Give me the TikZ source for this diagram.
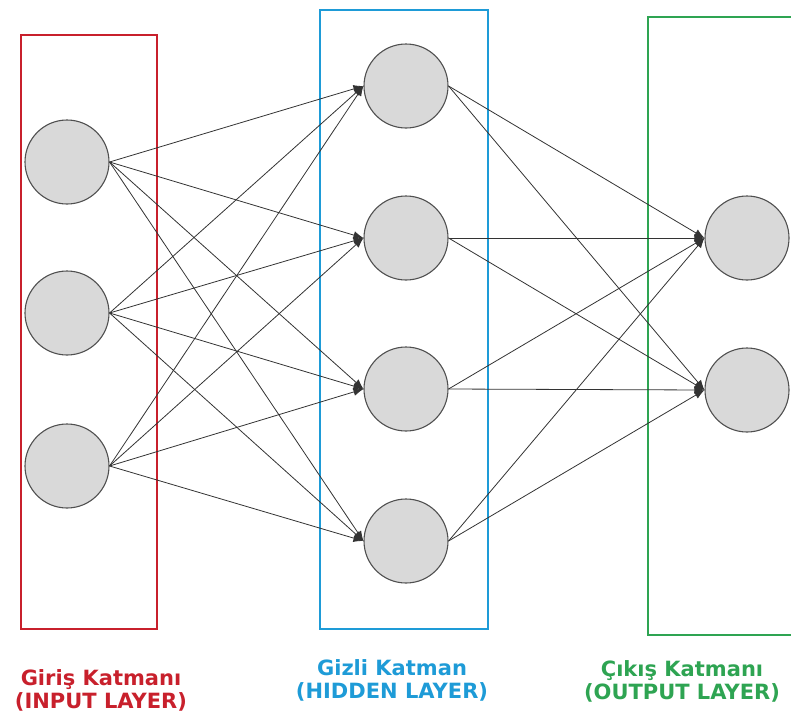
\documentclass[tikz,border=0pt]{standalone}
\usepackage{fontspec}
\setmainfont{DejaVu Sans}
\usetikzlibrary{arrows.meta}
\definecolor{inred}{RGB}{200,32,44}
\definecolor{hidblue}{RGB}{30,155,215}
\definecolor{outgreen}{RGB}{46,164,82}
\definecolor{nodefill}{RGB}{217,217,217}
\definecolor{nodeline}{RGB}{80,80,80}
\tikzset{
  neuron/.style={circle, draw=nodeline, line width=1.1pt, fill=nodefill, minimum size=84pt, inner sep=0pt},
  layerbox/.style={line width=2.8pt},
  link/.style={draw=black!80, line width=0.8pt, -{Latex[length=10pt,width=8pt]}},
  lab/.style={font=\bfseries\fontsize{21}{23}\selectfont, align=center, inner sep=0pt}
}
\begin{document}
\begin{tikzpicture}[x=1pt,y=-1pt]
\useasboundingbox (0,0) rectangle (791,720);
% layer boxes
\draw[layerbox, draw=inred] (21,35) rectangle (157,629);
\draw[layerbox, draw=hidblue] (320,10) rectangle (488,629);
\draw[layerbox, draw=outgreen] (800,17) -- (648,17) -- (648,635) -- (800,635);
% neurons
\node[neuron] (i1) at (67,162) {};
\node[neuron] (i2) at (67,313) {};
\node[neuron] (i3) at (67,466) {};
\node[neuron] (h1) at (406,86) {};
\node[neuron] (h2) at (406,238) {};
\node[neuron] (h3) at (406,389) {};
\node[neuron] (h4) at (406,541) {};
\node[neuron] (o1) at (747,238) {};
\node[neuron] (o2) at (747,390) {};
% connections
\foreach \a in {i1,i2,i3}
  \foreach \b in {h1,h2,h3,h4}
    \draw[link] (\a.east) -- (\b.west);
\foreach \a in {h1,h2,h3,h4}
  \foreach \b in {o1,o2}
    \draw[link] (\a.east) -- (\b.west);
% labels
\node[lab, text=inred] (li) at (101,690) {Giriş Katmanı\\(INPUT LAYER)};
\node[lab, text=hidblue] (lh) at (392,680) {Gizli Katman\\(HIDDEN LAYER)};
\node[lab, text=outgreen] (lo) at (682,681) {Çıkış Katmanı\\(OUTPUT LAYER)};
\end{tikzpicture}
\end{document}
